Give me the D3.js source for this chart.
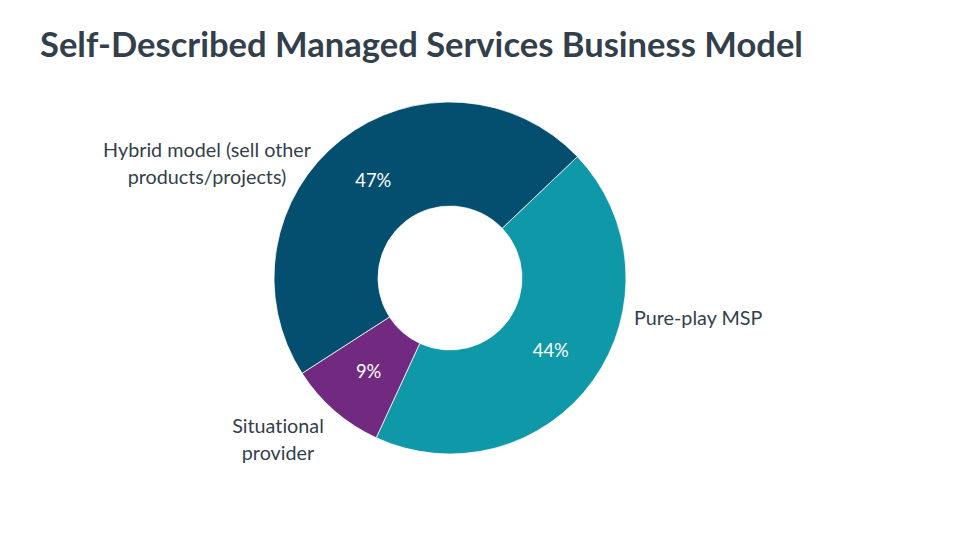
<!DOCTYPE html>
<html><head><meta charset="utf-8">
<script src="https://cdn.jsdelivr.net/npm/d3@7"></script>
<style>body{margin:0;background:#fff}svg{display:block}text{font-variant-ligatures:none;font-feature-settings:"liga" 0}</style>
</head><body>
<svg id="c" width="960" height="540"></svg>
<script>
const title = "Self-Described Managed Services Business Model";
const categories = ["Pure-play MSP", "Situational provider", "Hybrid model (sell other products/projects)"];
const labelLines = [["Pure-play MSP"], ["Situational", "provider"], ["Hybrid model (sell other", "products/projects)"]];
const values = [44, 9, 47];
const colors = ["#0F99A8", "#722A80", "#044E70"];

const svg = d3.select("#c");
const cx = 450, cy = 278, outerR = 176, innerR = 72;
const startDeg = 46.4;
const FONT = "Lato, 'Open Sans', sans-serif";

function fitSize(text, weight, target, base) {
  const tmp = svg.append("text").attr("font-family", FONT).attr("font-weight", weight)
    .attr("font-size", base).text(text);
  const w = tmp.node().getComputedTextLength();
  tmp.remove();
  return base * target / w;
}

const titleSize = fitSize(title, 700, 763, 28);
svg.append("text").attr("x", 40).attr("y", 57)
  .attr("font-family", FONT).attr("font-weight", 700)
  .attr("font-size", titleSize).attr("fill", "#333F4B").text(title);

const labelSize = fitSize("Hybrid model (sell other", 400, 208, 18);
const pctSize = fitSize("47%", 400, 36, 18);

const pie = d3.pie().sort(null).value(d => d)
  .startAngle(startDeg * Math.PI / 180).endAngle((startDeg + 360) * Math.PI / 180);
const arcs = pie(values);
const arc = d3.arc().innerRadius(innerR).outerRadius(outerR);
const midArc = d3.arc().innerRadius((innerR + outerR) / 2).outerRadius((innerR + outerR) / 2);

const g = svg.append("g").attr("transform", `translate(${cx},${cy})`);
g.selectAll("path").data(arcs).join("path")
  .attr("d", arc).attr("fill", (d, i) => colors[i])
  .attr("stroke", "#fff").attr("stroke-width", 0.75);

const fmt = d3.format(".0%");
g.selectAll("text.pct").data(arcs).join("text").attr("class", "pct")
  .attr("transform", d => `translate(${midArc.centroid(d)})`)
  .attr("text-anchor", "middle").attr("dy", "0.35em")
  .attr("font-family", FONT).attr("font-size", pctSize)
  .attr("fill", "#fff").text(d => fmt(d.data / 100));

const labelPos = [
  {x: 634, y: 318, anchor: "start"},
  {x: 278, y: 426, anchor: "middle"},
  {x: 207, y: 150, anchor: "middle"}
];
labelLines.forEach((lines, i) => {
  const p = labelPos[i];
  const tx = svg.append("text").attr("text-anchor", p.anchor)
    .attr("font-family", FONT).attr("font-size", labelSize)
    .attr("fill", "#333F4B");
  lines.forEach((ln, j) => {
    tx.append("tspan").attr("x", p.x).attr("y", p.y + j * 27).attr("dy", "0.35em").text(ln);
  });
});
</script>
</body></html>
